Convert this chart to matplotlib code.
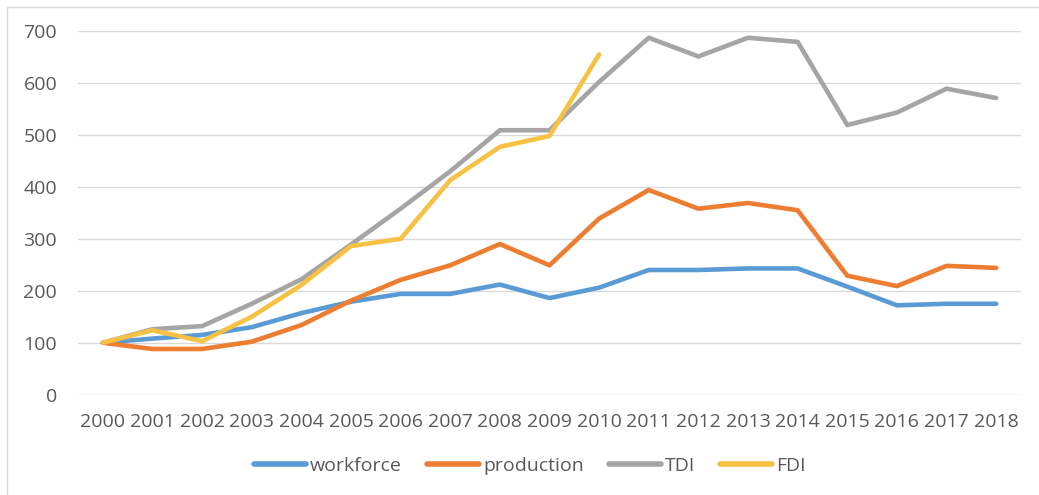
import matplotlib
matplotlib.use("Agg")
import matplotlib.pyplot as plt
from matplotlib.patches import Rectangle

years = ["2000", "2001", "2002", "2003", "2004", "2005", "2006", "2007", "2008", "2009",
         "2010", "2011", "2012", "2013", "2014", "2015", "2016", "2017", "2018"]
workforce = [100, 108, 115, 130, 157, 179, 194, 194, 212, 186, 206, 240, 240, 243, 243, 208, 172, 175, 175]
production = [100, 88, 88, 102, 134, 181, 221, 249, 290, 249, 339, 394, 358, 369, 355, 229, 209, 248, 244]
tdi = [100, 126, 132, 175, 222, 289, 358, 430, 509, 509, 602, 687, 651, 687, 679, 519, 543, 589, 571]
fdi = [100, 124, 103, 150, 211, 286, 300, 413, 477, 498, 655]
yticks = [0, 100, 200, 300, 400, 500, 600, 700]

series = [("workforce", workforce, "#5B9BD5"),
          ("production", production, "#ED7D31"),
          ("TDI", tdi, "#A5A5A5"),
          ("FDI", fdi, "#F7C143")]

plt.rcParams['font.family'] = ['Open Sans', 'DejaVu Sans']
W, H = 1039, 495
fig = plt.figure(figsize=(W / 100, H / 100), dpi=100)
fig.patch.set_facecolor("white")

# outer chart border
fig.patches.append(Rectangle((7 / W, -0.1), 1.2, 1 - 7 / H + 0.1, transform=fig.transFigure,
                             fill=False, edgecolor="#D9D9D9", linewidth=1.0))

left, right = 78 / W, 1021 / W
bottom, top = 1 - 394.7 / H, 1 - 31 / H
ax = fig.add_axes([left, bottom, right - left, top - bottom])

x = list(range(len(years)))
for name, vals, col in series:
    ax.plot(x[:len(vals)], vals, color=col, linewidth=3.3, label=name,
            solid_capstyle="round", solid_joinstyle="round")

ax.set_xlim(-0.5, len(years) - 0.5)
ax.set_ylim(0, 700)
ax.set_yticks(yticks)
ax.set_xticks(x)
ax.set_xticklabels(years)
ax.grid(axis="y", color="#D9D9D9", linewidth=1.0)
ax.set_axisbelow(True)
for s in ax.spines.values():
    s.set_visible(False)
ax.tick_params(axis="both", length=0, labelsize=14, colors="#595959")
ax.tick_params(axis="y", pad=15)
ax.tick_params(axis="x", pad=13)

leg = fig.legend(loc="center", bbox_to_anchor=(530 / W, 1 - 466 / H), ncol=4,
                 frameon=False, fontsize=14, handlelength=2.67, handletextpad=0.2,
                 columnspacing=1.3)
for t in leg.get_texts():
    t.set_color("#595959")
for l in leg.get_lines():
    l.set_linewidth(4)

fig.savefig("out.png", dpi=100, facecolor="white")
